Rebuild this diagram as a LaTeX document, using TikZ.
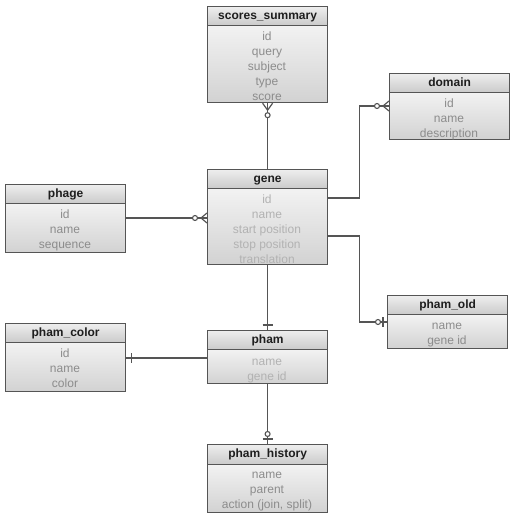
\documentclass[tikz,border=0pt]{standalone}
\usepackage{fontspec}
\setmainfont{Liberation Sans}
\usetikzlibrary{calc}
\definecolor{bordc}{HTML}{555555}
\definecolor{hdrtop}{HTML}{EEEEEE}
\definecolor{hdrbot}{HTML}{CACACA}
\definecolor{bodytop}{HTML}{F2F2F2}
\definecolor{bodybot}{HTML}{D2D2D2}
\definecolor{hdrtext}{HTML}{1E1E1E}
\definecolor{fieldc}{HTML}{8C8C8C}
\definecolor{fieldfaint}{HTML}{B2B2B2}
\definecolor{linec}{HTML}{555555}
\tikzset{
  hdr/.style={draw=bordc, line width=1.2pt, top color=hdrtop, bottom color=hdrbot,
    font=\bfseries\fontsize{12}{15}\selectfont, text=hdrtext, minimum width=120pt,
    minimum height=19pt, text height=8.8pt, text depth=2.6pt, inner sep=0pt, anchor=north west},
  bodybox/.style={draw=bordc, line width=1.2pt, top color=bodytop, bottom color=bodybot,
    minimum width=120pt, inner sep=0pt, anchor=north west},
  fields/.style={font=\fontsize{12}{15}\selectfont, text=fieldc, align=center, inner sep=0pt, anchor=base},
  faint/.style={text=fieldfaint},
  link/.style={draw=linec, line width=1.2pt},
  ring/.style={draw=linec, line width=1.1pt, fill=white},
}
\begin{document}
\begin{tikzpicture}[x=1pt,y=-1pt]
\useasboundingbox[fill=white] (0,0) rectangle (512,519);

% scores_summary
\node[hdr] (scoresH) at (207,6) {scores\_summary};
\node[bodybox, minimum height=77pt] (scoresB) at (207,25) {};
\node[fields] (scoresF) at (267,100.5) {id\\query\\subject\\type\\score};

% gene
\node[hdr] (geneH) at (207,169) {gene};
\node[bodybox, minimum height=76pt] (geneB) at (207,188) {};
\node[fields, faint] (geneF) at (267,263.5) {id\\name\\start position\\stop position\\translation};

% domain
\node[hdr] (domainH) at (389,73) {domain};
\node[bodybox, minimum height=47pt] (domainB) at (389,92) {};
\node[fields] (domainF) at (449,137.5) {id\\name\\description};

% phage
\node[hdr] (phageH) at (5,184) {phage};
\node[bodybox, minimum height=49pt] (phageB) at (5,203) {};
\node[fields] (phageF) at (65,248.5) {id\\name\\sequence};

% pham_color
\node[hdr] (colorH) at (5,323) {pham\_color};
\node[bodybox, minimum height=49pt] (colorB) at (5,342) {};
\node[fields] (colorF) at (65,387.5) {id\\name\\color};

% pham
\node[hdr] (phamH) at (207,330) {pham};
\node[bodybox, minimum height=34pt] (phamB) at (207,349) {};
\node[fields, faint] (phamF) at (267,380.5) {name\\gene id};

% pham_old
\node[hdr] (oldH) at (387,295) {pham\_old};
\node[bodybox, minimum height=34pt] (oldB) at (387,314) {};
\node[fields] (oldF) at (447,344.5) {name\\gene id};

% pham_history
\node[hdr, minimum height=20pt] (histH) at (207,444) {pham\_history};
\node[bodybox, minimum height=48pt] (histB) at (207,464) {};
\node[fields] (histF) at (267,508.5) {name\\parent\\action (join, split)};

% connector end points
\coordinate (dEnd) at ([yshift=-14pt]domainB.north west);
\coordinate (gEnd) at ([yshift=-30pt]geneB.north west);
\coordinate (oEnd) at ([yshift=-8pt]oldB.north west);
\coordinate (pEnd) at ([yshift=-9pt]phamB.north west);
\coordinate (cEnd) at ([yshift=-16pt]colorB.north east);

% connectors
\draw[link] (scoresB.south) -- (geneH.north);
\draw[link] ([yshift=-10pt]geneB.north east) -- ++(31,0) |- (dEnd);
\draw[link] ([yshift=-48pt]geneB.north east) -- ++(31,0) |- (oEnd);
\draw[link] ([yshift=-15pt]phageB.north east) -- (gEnd);
\draw[link] (geneB.south) -- (phamH.north);
\draw[link] (cEnd) -- (pEnd);
\draw[link] (phamB.south) -- (histH.north);

% end marks
% scores_summary: zero or many
\draw[link] ($(scoresB.south)+(-5,0)$) -- ($(scoresB.south)+(0,7)$) -- ($(scoresB.south)+(5,0)$);
\draw[ring] ($(scoresB.south)+(0,12)$) circle[radius=2.5pt];
% domain: zero or many
\draw[link] ($(dEnd)+(0,-5)$) -- ($(dEnd)+(-6,0)$) -- ($(dEnd)+(0,5)$);
\draw[ring] ($(dEnd)+(-12,0)$) circle[radius=2.5pt];
% gene (from phage): zero or many
\draw[link] ($(gEnd)+(0,-5)$) -- ($(gEnd)+(-6,0)$) -- ($(gEnd)+(0,5)$);
\draw[ring] ($(gEnd)+(-12,0)$) circle[radius=2.5pt];
% pham_old: zero or one
\draw[link] ($(oEnd)+(-4,-5)$) -- ($(oEnd)+(-4,5)$);
\draw[ring] ($(oEnd)+(-9,0)$) circle[radius=2.5pt];
% pham: one
\draw[link] ($(phamH.north)+(-5,-5)$) -- ($(phamH.north)+(5,-5)$);
% pham_color: one
\draw[link] ($(cEnd)+(5,-5)$) -- ($(cEnd)+(5,5)$);
% pham_history: zero or one
\draw[link] ($(histH.north)+(-5,-5)$) -- ($(histH.north)+(5,-5)$);
\draw[ring] ($(histH.north)+(0,-10)$) circle[radius=2.5pt];
\end{tikzpicture}
\end{document}
